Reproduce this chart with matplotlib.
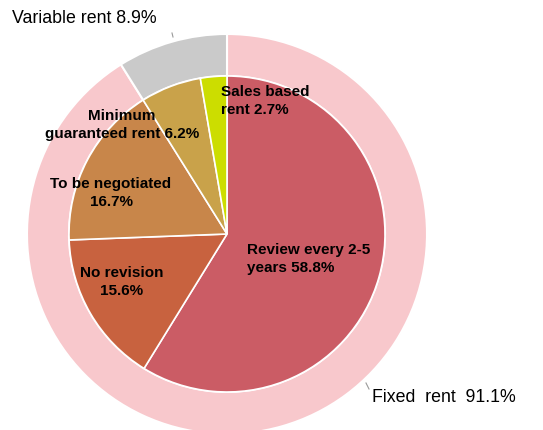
import matplotlib.pyplot as plt

# inner pie: breakdown of fixed + variable rent types
inner_labels = ["Review every 2-5\nyears 58.8%", "No revision\n15.6%", "To be negotiated\n16.7%",
                "Minimum\nguaranteed rent 6.2%", "Sales based\nrent 2.7%"]
inner_values = [58.8, 15.6, 16.7, 6.2, 2.7]
inner_colors = ["#CB5C65", "#C8623F", "#C8864A", "#C9A24A", "#CCDD00"]

# outer ring
outer_labels = ["Fixed  rent  91.1%", "Variable rent 8.9%"]
outer_values = [91.1, 8.9]
outer_colors = ["#F8C8CC", "#CACACA"]

W, H = 543, 431
fig = plt.figure(figsize=(W / 100, H / 100), dpi=100)
ax = fig.add_axes([0, 0, 1, 1])

cx, cy = 227, H - 235

ax.pie(outer_values, radius=200, center=(cx, cy), startangle=90, counterclock=False,
       colors=outer_colors, wedgeprops=dict(width=42, edgecolor="white", linewidth=1.5))
ax.pie(inner_values, radius=158, center=(cx, cy), startangle=90, counterclock=False,
       colors=inner_colors, wedgeprops=dict(edgecolor="white", linewidth=1.2))

ax.set_xlim(0, W)
ax.set_ylim(0, H)
ax.set_aspect("equal")
ax.axis("off")

plt.rcParams["font.family"] = ["Liberation Sans", "DejaVu Sans"]
bold = dict(fontsize=11, fontweight="bold", color="black", linespacing=1.35)

# label positions (image pixels)
ax.text(247, H - 259, inner_labels[0], ha="left", va="center", **bold)
ax.text(122, H - 282, inner_labels[1], ha="center", va="center", multialignment="center", **bold)
ax.text(111, H - 193, inner_labels[2], ha="center", va="center", multialignment="center", **bold)
ax.text(122, H - 125, inner_labels[3], ha="center", va="center", multialignment="center", **bold)
ax.text(221, H - 101, inner_labels[4], ha="left", va="center", **bold)

ax.text(372, H - 398, outer_labels[0], ha="left", va="center", fontsize=12.8)
ax.text(12, H - 18, outer_labels[1], ha="left", va="center", fontsize=12.8)

# small leader ticks
ax.plot([172, 173], [H - 34, H - 38], color="#999999", lw=0.8)
ax.plot([366, 369], [H - 384, H - 390], color="#999999", lw=0.8)

fig.savefig("out.png", dpi=100)
